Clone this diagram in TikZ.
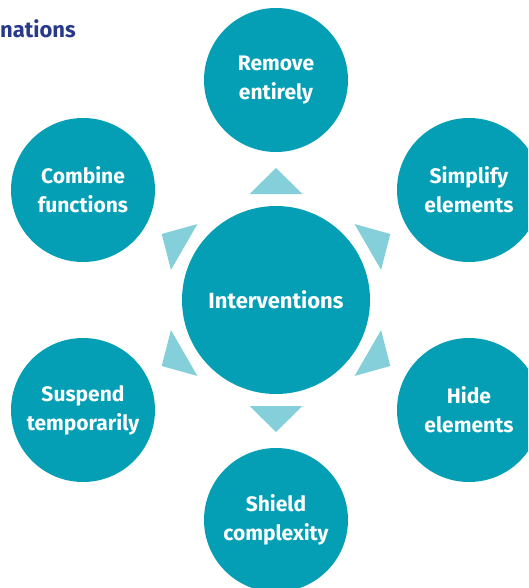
\documentclass[tikz,border=0pt]{standalone}
\usepackage{fontspec}
\setmainfont{Fira Sans}
\definecolor{hubteal}{RGB}{4,159,181}
\definecolor{pointerblue}{RGB}{133,207,219}
\definecolor{titleblue}{RGB}{41,57,138}

\begin{document}
\begin{tikzpicture}[x=1pt,y=-1pt]

        \useasboundingbox (0,0) rectangle (528,588);
        \clip (0,0) rectangle (528,588);

        \node[anchor=base west,inner sep=0,text=titleblue,
              font=\bfseries\fontsize{22}{26}\selectfont] (title) at (0,38) {nations};

        \begin{scope}[every node/.style={circle,fill=hubteal,text=white,align=center,
              inner sep=0,minimum size=144pt,font=\bfseries\fontsize{21}{29}\selectfont}]
          \node[minimum size=188pt,font=\bfseries\fontsize{22}{29}\selectfont] (c)  at (276,300)  {Interventions};
          \node (1)  at (276,80)   {Remove\\entirely};
          \node (2)  at (469,190)  {Simplify\\elements};
          \node (3)  at (469,410)  {Hide\\elements};
          \node (4)  at (276,520)  {Shield\\complexity};
          \node (5)  at (83,410)   {Suspend\\temporarily};
          \node (6)  at (83,190)   {Combine\\functions};
        \end{scope}

        % pointers from the hub to the outer circles
        \foreach \a in {30,90,...,330}
          \fill[pointerblue,shift={(c.center)},rotate=\a]
            (132,0) -- (106,26.5) -- (106,-26.5) -- cycle;

      \end{tikzpicture}
\end{document}
